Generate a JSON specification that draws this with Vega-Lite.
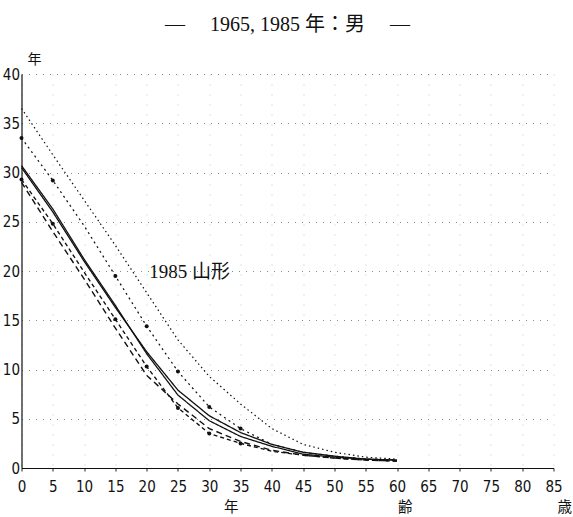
{
  "$schema": "https://vega.github.io/schema/vega-lite/v6.json",
  "width": 532,
  "height": 394,
  "autosize": "none",
  "padding": {"left": 21.5, "top": 74, "right": 19.5, "bottom": 49},
  "background": "white",
  "config": {
    "view": {"stroke": null},
    "font": "Liberation Sans Narrow, DejaVu Sans Condensed, Liberation Sans, Noto Sans CJK JP"
  },
  "title": {
    "text": "—　 1965, 1985 年：男　 —",
    "font": "Liberation Serif, Noto Sans CJK JP",
    "fontSize": 20,
    "fontWeight": "normal",
    "color": "#111",
    "anchor": "middle",
    "offset": 17
  },
  "datasets": {
    "curves": [
      {"series": "A", "age": 0, "value": 36.5}, {"series": "A", "age": 5, "value": 31.8}, {"series": "A", "age": 10, "value": 27.2}, {"series": "A", "age": 15, "value": 22.6}, {"series": "A", "age": 20, "value": 17.8}, {"series": "A", "age": 25, "value": 13.0}, {"series": "A", "age": 30, "value": 9.3}, {"series": "A", "age": 35, "value": 6.5}, {"series": "A", "age": 40, "value": 4.0}, {"series": "A", "age": 45, "value": 2.4}, {"series": "A", "age": 50, "value": 1.6}, {"series": "A", "age": 55, "value": 1.1}, {"series": "A", "age": 60, "value": 0.9},
      {"series": "B", "age": 0, "value": 33.5}, {"series": "B", "age": 5, "value": 29.2}, {"series": "B", "age": 10, "value": 24.6}, {"series": "B", "age": 15, "value": 19.5}, {"series": "B", "age": 20, "value": 14.4}, {"series": "B", "age": 25, "value": 9.8}, {"series": "B", "age": 30, "value": 6.2}, {"series": "B", "age": 35, "value": 4.0}, {"series": "B", "age": 40, "value": 2.4}, {"series": "B", "age": 45, "value": 1.6}, {"series": "B", "age": 50, "value": 1.2}, {"series": "B", "age": 55, "value": 0.9}, {"series": "B", "age": 60, "value": 0.8},
      {"series": "C", "age": 0, "value": 30.7}, {"series": "C", "age": 5, "value": 26.3}, {"series": "C", "age": 10, "value": 21.2}, {"series": "C", "age": 15, "value": 16.5}, {"series": "C", "age": 20, "value": 11.6}, {"series": "C", "age": 25, "value": 7.4}, {"series": "C", "age": 30, "value": 4.8}, {"series": "C", "age": 35, "value": 3.2}, {"series": "C", "age": 40, "value": 2.2}, {"series": "C", "age": 45, "value": 1.4}, {"series": "C", "age": 50, "value": 1.1}, {"series": "C", "age": 55, "value": 0.9}, {"series": "C", "age": 60, "value": 0.8},
      {"series": "C2", "age": 0, "value": 30.5}, {"series": "C2", "age": 5, "value": 26.0}, {"series": "C2", "age": 10, "value": 21.0}, {"series": "C2", "age": 15, "value": 16.3}, {"series": "C2", "age": 20, "value": 11.8}, {"series": "C2", "age": 25, "value": 7.9}, {"series": "C2", "age": 30, "value": 5.3}, {"series": "C2", "age": 35, "value": 3.6}, {"series": "C2", "age": 40, "value": 2.4}, {"series": "C2", "age": 45, "value": 1.6}, {"series": "C2", "age": 50, "value": 1.2}, {"series": "C2", "age": 55, "value": 0.9}, {"series": "C2", "age": 60, "value": 0.8},
      {"series": "D", "age": 0, "value": 29.3}, {"series": "D", "age": 5, "value": 24.8}, {"series": "D", "age": 10, "value": 19.9}, {"series": "D", "age": 15, "value": 15.1}, {"series": "D", "age": 20, "value": 10.3}, {"series": "D", "age": 25, "value": 6.1}, {"series": "D", "age": 30, "value": 3.5}, {"series": "D", "age": 35, "value": 2.5}, {"series": "D", "age": 40, "value": 1.7}, {"series": "D", "age": 45, "value": 1.3}, {"series": "D", "age": 50, "value": 1.0}, {"series": "D", "age": 55, "value": 0.8}, {"series": "D", "age": 60, "value": 0.7},
      {"series": "E", "age": 0, "value": 29.0}, {"series": "E", "age": 5, "value": 24.0}, {"series": "E", "age": 10, "value": 19.2}, {"series": "E", "age": 15, "value": 14.2}, {"series": "E", "age": 20, "value": 9.4}, {"series": "E", "age": 25, "value": 6.5}, {"series": "E", "age": 30, "value": 4.0}, {"series": "E", "age": 35, "value": 2.7}, {"series": "E", "age": 40, "value": 1.8}, {"series": "E", "age": 45, "value": 1.3}, {"series": "E", "age": 50, "value": 1.0}, {"series": "E", "age": 55, "value": 0.8}, {"series": "E", "age": 60, "value": 0.7}
    ],
    "labels": [
      {"text": "1985 山形", "age": 20.4, "value": 19.9}
    ]
  },
  "encoding": {
    "x": {
      "field": "age",
      "type": "quantitative",
      "scale": {"domain": [0, 85], "nice": false, "zero": false},
      "axis": {
        "values": [0, 5, 10, 15, 20, 25, 30, 35, 40, 45, 50, 55, 60, 65, 70, 75, 80, 85],
        "labelFontSize": 15,
        "labelColor": "#111",
        "labelPadding": 8,
        "labelFlush": false,
        "tickSize": 3,
        "tickColor": "#222",
        "domainColor": "#111",
        "domainWidth": 1.2,
        "grid": true,
        "gridColor": "#666",
        "gridDash": [1, 9],
        "gridOpacity": 0.4,
        "title": "年　　　　　　　　　　　齢　　　　　　　　　　歳",
        "titleFont": "Noto Sans CJK JP",
        "titleFontSize": 14.5,
        "titleFontWeight": "normal",
        "titleColor": "#111",
        "titleX": 376,
        "titleY": 39,
        "titleAlign": "center",
        "titleBaseline": "middle"
      }
    },
    "y": {
      "field": "value",
      "type": "quantitative",
      "scale": {"domain": [0, 40], "nice": false},
      "axis": {
        "values": [0, 5, 10, 15, 20, 25, 30, 35, 40],
        "labelFontSize": 15,
        "labelColor": "#111",
        "labelPadding": 2,
        "tickSize": 0,
        "domainColor": "#111",
        "domainWidth": 1.2,
        "grid": true,
        "gridColor": "#555",
        "gridDash": [1, 6],
        "gridOpacity": 0.7,
        "title": "年",
        "titleFont": "Noto Sans CJK JP",
        "titleFontSize": 14,
        "titleFontWeight": "normal",
        "titleColor": "#111",
        "titleAngle": 0,
        "titleX": 12.5,
        "titleY": -15,
        "titleAlign": "center",
        "titleBaseline": "middle"
      }
    }
  },
  "layer": [
    {
      "data": {"name": "curves"},
      "mark": {"type": "line", "color": "#111"},
      "encoding": {
        "detail": {"field": "series"},
        "strokeDash": {
          "field": "series",
          "type": "nominal",
          "legend": null,
          "scale": {
            "domain": ["A", "B", "C", "C2", "D", "E"],
            "range": [[1.5, 3], [2, 3.5], [1, 0], [1, 0], [4, 3], [6, 4]]
          }
        },
        "strokeWidth": {
          "field": "series",
          "type": "nominal",
          "legend": null,
          "scale": {
            "domain": ["A", "B", "C", "C2", "D", "E"],
            "range": [1.2, 1.4, 2, 0.8, 1.4, 1.4]
          }
        }
      }
    },
    {
      "data": {"name": "curves"},
      "transform": [
        {"filter": "(datum.series === 'B' || datum.series === 'D') && datum.age <= 35 && datum.age !== 10"}
      ],
      "mark": {"type": "point", "filled": true, "color": "#111", "size": 16, "opacity": 1}
    },
    {
      "data": {"name": "labels"},
      "mark": {
        "type": "text",
        "align": "left",
        "baseline": "middle",
        "font": "Liberation Serif, Noto Sans CJK JP",
        "fontSize": 19,
        "color": "#111"
      },
      "encoding": {"text": {"field": "text"}}
    }
  ]
}
